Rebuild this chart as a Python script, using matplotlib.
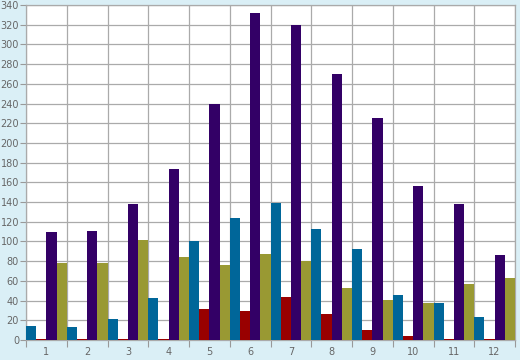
import matplotlib
matplotlib.use("Agg")
import matplotlib.pyplot as plt
import numpy as np

categories = ["1", "2", "3", "4", "5", "6", "7", "8", "9", "10", "11", "12"]
blue_vals   = [14.2, 13.5, 21.3, 42.6, 100.5, 124, 139, 113, 92.4, 45.7, 37.6, 23.4]
red_vals    = [0.8, 0.8, 0.8, 1.5, 31.5, 29.4, 43.7, 26.4, 10.2, 4.0, 1.2, 0.8]
purple_vals = [109.5, 111, 138, 173.6, 239.6, 332, 320, 270, 225, 156.3, 138, 86.3]
olive_vals  = [78.5, 78.5, 101, 84.6, 76, 87.3, 80, 52.8, 40.6, 37.6, 56.9, 62.9]
y_ticks = list(range(0, 341, 20))

series = [
    (blue_vals, "#006699"),
    (red_vals, "#990000"),
    (purple_vals, "#330066"),
    (olive_vals, "#999933"),
]

fig = plt.figure(figsize=(5.2, 3.6), dpi=100)
fig.patch.set_facecolor("#daeff6")
ax = fig.add_axes([26/520, 1-340/360, (515-26)/520, (340-5)/360])
ax.set_facecolor("white")

n = len(categories)
x = np.arange(n)
w = 0.25
for k, (vals, col) in enumerate(series):
    ax.bar(x + k*w, vals, width=w, align="edge", color=col, zorder=3, linewidth=0)

ax.set_xlim(0, n)
ax.set_ylim(0, 340)
ax.set_yticks(y_ticks)
ax.set_yticklabels([str(t) for t in y_ticks])
ax.set_xticks(np.arange(0, n+1))
ax.set_xticklabels([])
ax.set_xticks(x + 0.5, minor=True)
ax.set_xticklabels(categories, minor=True)
ax.tick_params(axis="x", which="minor", length=0, pad=5, labelsize=7, labelcolor="#666666")
ax.tick_params(axis="x", which="major", length=5, color="#999999", width=0.8)
ax.tick_params(axis="y", length=4, color="#999999", width=0.8, pad=1, labelsize=7, labelcolor="#666666")
ax.grid(True, which="major", color="#aaaaaa", linewidth=0.9, zorder=0)
ax.set_axisbelow(True)
for s in ax.spines.values():
    s.set_color("#aaaaaa")
    s.set_linewidth(0.9)

fig.savefig("out.png", dpi=100, facecolor=fig.get_facecolor())
